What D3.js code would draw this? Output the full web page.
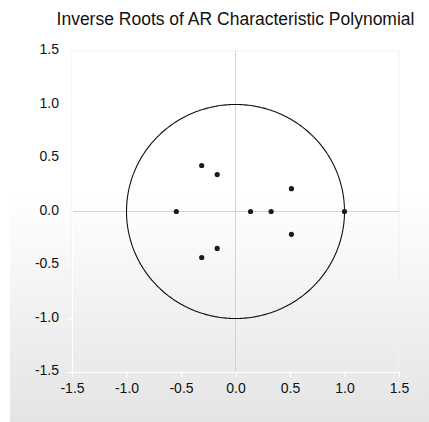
<!DOCTYPE html>
<html><head><meta charset="utf-8">
<script src="https://cdn.jsdelivr.net/npm/d3@7"></script>
<style>body{margin:0;background:#fff}svg{display:block}</style>
</head><body>
<svg id="c" width="429" height="422"></svg>
<script>
const title = "Inverse Roots of AR Characteristic Polynomial";
const rootRe = [-0.31, -0.31, -0.168, -0.168, -0.543, 0.138, 0.327, 0.513, 0.513, 1.0];
const rootIm = [0.43, -0.43, 0.345, -0.345, 0.0, 0.0, 0.0, 0.213, -0.213, 0.0];
const tickVals = [-1.5, -1.0, -0.5, 0.0, 0.5, 1.0, 1.5];
const tickLabels = ["-1.5", "-1.0", "-0.5", "0.0", "0.5", "1.0", "1.5"];

const FONT = "'Liberation Sans',Arial,sans-serif";
const svg = d3.select("#c");
const defs = svg.append("defs");
const g = defs.append("linearGradient").attr("id","bg").attr("x1",0).attr("x2",0).attr("y1",0).attr("y2",1);
g.append("stop").attr("offset","0%").attr("stop-color","#ffffff");
g.append("stop").attr("offset","46%").attr("stop-color","#ffffff");
g.append("stop").attr("offset","100%").attr("stop-color","#e4e4e4");
svg.append("rect").attr("x",10).attr("y",0).attr("width",419).attr("height",422).attr("fill","url(#bg)");

const x = d3.scaleLinear().domain([-1.5,1.5]).range([72,399]);
const y = d3.scaleLinear().domain([-1.5,1.5]).range([372,51]);

// frame
svg.append("rect").attr("x",x(-1.5)).attr("y",y(1.5)).attr("width",x(1.5)-x(-1.5)).attr("height",y(-1.5)-y(1.5))
  .attr("fill","none").attr("stroke","#f0f0f0").attr("stroke-width",1);

// zero lines
svg.append("line").attr("x1",x(-1.5)).attr("x2",x(1.5)).attr("y1",y(0)).attr("y2",y(0)).attr("stroke","#d2d2d2");
svg.append("line").attr("x1",x(0)).attr("x2",x(0)).attr("y1",y(1.5)).attr("y2",y(-1.5)).attr("stroke","#d2d2d2");

const fmt = (d) => tickLabels[tickVals.indexOf(d)];
const xa = svg.append("g").attr("transform",`translate(0,${y(-1.5)})`)
  .call(d3.axisBottom(x).tickValues(tickVals).tickFormat(fmt).tickSize(5).tickPadding(6));
const ya = svg.append("g").attr("transform",`translate(${x(-1.5)},0)`)
  .call(d3.axisLeft(y).tickValues(tickVals).tickFormat(fmt).tickSize(5).tickPadding(8));
[xa,ya].forEach(a=>{
  a.attr("font-family", FONT).attr("font-size", 14);
  a.select(".domain").attr("stroke","#ffffff");
  a.selectAll(".tick line").attr("stroke","#ffffff");
  a.selectAll(".tick text").attr("fill","#111");
});
ya.selectAll(".tick text").attr("dy","0.2em");

// unit circle
const line = d3.line().x(d=>x(Math.cos(d))).y(d=>y(Math.sin(d)));
svg.append("path").datum(d3.range(0, 2*Math.PI+0.01, Math.PI/180))
  .attr("d", line).attr("fill","none").attr("stroke","#111").attr("stroke-width",1.1);

// roots
svg.append("g").selectAll("circle").data(rootRe.map((r,i)=>[r,rootIm[i]])).join("circle")
  .attr("cx",d=>x(d[0])).attr("cy",d=>y(d[1])).attr("r",2.6).attr("fill","#1a1a1a");

svg.append("text").attr("x",235.5).attr("y",25).attr("text-anchor","middle")
  .attr("font-family",FONT).attr("font-size",17.5).attr("fill","#111").text(title);
</script>
</body></html>
